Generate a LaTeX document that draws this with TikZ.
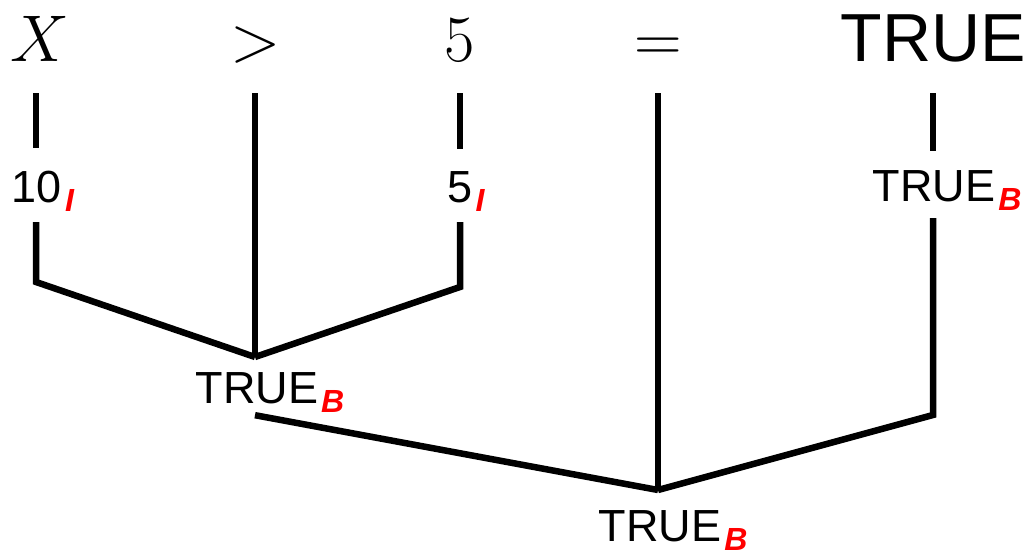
\RequirePackage{fix-cm}
\documentclass[tikz,border=0pt]{standalone}
\usepackage{fontspec}
\setmainfont{Liberation Sans}
\usetikzlibrary{positioning}
\tikzset{
    % Text
    tok/.style={inner sep=0pt, anchor=base, text depth=0pt, font=\fontsize{66}{70}\selectfont},
    val/.style={inner sep=0pt, anchor=base, text depth=0pt, font=\fontsize{45}{50}\selectfont},
    % Lines
    wire/.style={line width=6.5pt, black}
}
\newcommand{\typ}[1]{\rlap{\kern3pt\raisebox{-9pt}{\fontsize{32}{36}\selectfont\bfseries\itshape\color{red}#1}}}

\begin{document}
\begin{tikzpicture}[x=1pt, y=-1pt]
\useasboundingbox (0,0) rectangle (1029,556);

% Expression
\node[tok] (nX) at (40,62) {$X$};
\node[tok] (nGt) at (256,62) {$>$};
\node[tok] (nFive) at (460,62) {$5$};
\node[tok] (nEq) at (658,62) {$=$};
\node[tok, font=\fontsize{68}{72}\selectfont] (nTrue) at (933,62) {TRUE};

% Types
\node[val] (lTen) at (37,203) {10\typ{I}};
\node[val] (lFive) at (460,203) {5\typ{I}};
\node[val] (lTrueR) at (934,202) {TRUE\typ{B}};
\node[val] (lOne) at (257,403) {TRUE\typ{B}};
\node[val] (lTwo) at (660,541) {TRUE\typ{B}};

% Joints
\coordinate (jTen) at (36,282);
\coordinate (jFive) at (460,287);
\coordinate (jOne) at (255,357);
\coordinate (jTrue) at (933,415);
\coordinate (jTwo) at (658,490);

\draw[wire, shorten <=31pt, shorten >=23pt] (jTen |- nX.south) -- (jTen |- lTen.north);
\draw[wire, shorten <=19pt] (jTen |- lTen.south) -- (jTen) -- (jOne);
\draw[wire, shorten <=31pt] (jOne |- nGt.south) -- (jOne);
\draw[wire, shorten <=31pt, shorten >=23pt] (nFive.south) -- (lFive.north);
\draw[wire, shorten <=19pt] (lFive.south) -- (jFive) -- (jOne);
\draw[wire] (jOne |- lOne.south) ++(0,12) -- (jTwo);
\draw[wire, shorten <=31pt] (nEq.south) -- (jTwo);
\draw[wire, shorten <=31pt, shorten >=20pt] (jTrue |- nTrue.south) -- (jTrue |- lTrueR.north);
\draw[wire, shorten <=16pt] (jTrue |- lTrueR.south) -- (jTrue) -- (jTwo);

\end{tikzpicture}
\end{document}
